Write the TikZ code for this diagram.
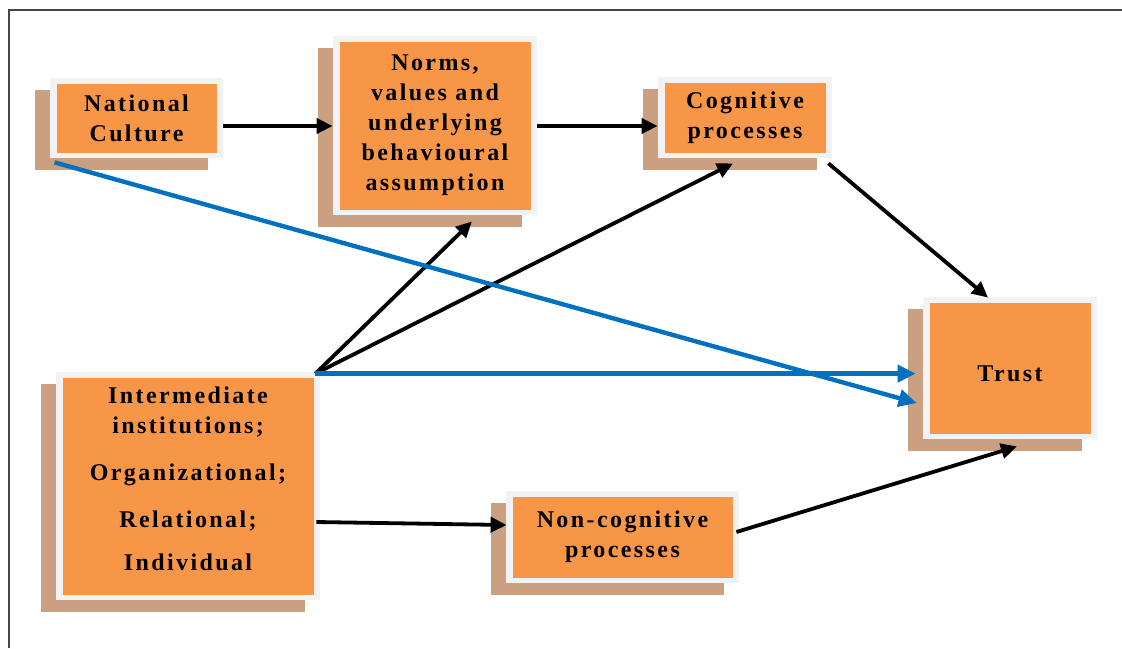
\documentclass[tikz,border=0pt]{standalone}
\usepackage{fontspec}
\setmainfont{Liberation Serif}
\usetikzlibrary{arrows.meta,calc,shadows}

\definecolor{boxorange}{RGB}{247,150,70}
\definecolor{boxshadow}{RGB}{203,160,128}
\definecolor{boxrim}{RGB}{242,242,242}
\definecolor{linkblue}{RGB}{0,112,192}
\definecolor{framegray}{RGB}{70,70,70}

\tikzset{
  factor/.style={rectangle, fill=boxrim, inner sep=0pt, align=center,
    font=\fontsize{12}{15}\selectfont\bfseries\addfontfeatures{LetterSpace=10},
    general shadow={fill=boxshadow, shadow xshift=-7.5pt, shadow yshift=-6pt},
    path picture={\fill[boxorange]
      ([shift={(3.5pt,2.75pt)}]path picture bounding box.south west) rectangle
      ([shift={(-3.25pt,-3pt)}]path picture bounding box.north east);}},
  link/.style={line width=1.9pt, -{Triangle[length=8pt,width=7.5pt]}},
  bluelink/.style={line width=2.2pt, draw=linkblue, -{Triangle[length=9pt,width=8.5pt]}},
}

\begin{document}
\begin{tikzpicture}[x=0.5pt,y=-0.5pt]
\useasboundingbox (0,0) rectangle (1122,648);

% page frame
\draw[framegray, line width=1pt] (8.5,648) -- (8.5,9.5) -- (1122,9.5);

% factor boxes
\node[factor, minimum width=86.5pt, minimum height=40pt] (nc) at (136.5,118)
  {National\\Culture};
\node[factor, minimum width=102pt, minimum height=89.5pt] (norms) at (435,125.5)
  {Norms,\\values and\\underlying\\behavioural\\assumption};
\node[factor, minimum width=87pt, minimum height=40.5pt] (cog) at (745,117.5)
  {Cognitive\\processes};
\node[factor, minimum width=87pt, minimum height=71pt, text height=14pt] (trust) at (1010,368)
  {Trust};
\node[factor, minimum width=132pt, minimum height=114pt, text depth=7pt] (inter) at (188,486)
  {Intermediate\\institutions;\\[8.5pt]Organizational;\\[8.5pt]Relational;\\[6.5pt]Individual};
\node[factor, minimum width=116.5pt, minimum height=46pt] (noncog) at (622.5,537)
  {Non-cognitive\\processes};

% junction point at the corner of the institutions box
\coordinate (hub) at ($(inter.north east)+(-5,2)$);

% black links
\draw[link] (nc.east |- 0,126) -- (norms.west |- 0,126);
\draw[link] (norms.east |- 0,126) -- (cog.west |- 0,126);
\draw[link] ($(cog.south east)+(-4,5)$) -- ($(trust.north)+(-22,1)$);
\draw[link] (hub) -- ($(norms.south)+(37,6)$);
\draw[link] (hub) -- ($(cog.south)+(-12,5)$);
\draw[link] ($(inter.east)+(-4,36)$) -- ($(noncog.west)+(1,-12)$);
\draw[link] ($(noncog.east)+(-3,-5)$) -- ($(trust.south)+(7,7)$);

% blue links
\draw[bluelink] (hub) -- ($(trust.west |- hub)+(-7,0)$);
\draw[bluelink] ($(nc.south west)+(5,4)$) -- ($(trust.west)+(-6,35)$);
\end{tikzpicture}
\end{document}
